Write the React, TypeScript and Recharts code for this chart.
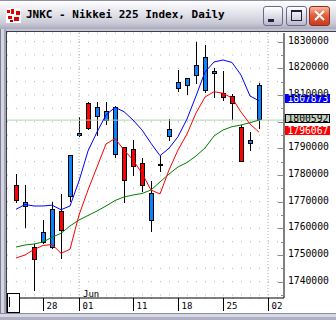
import React from 'react';
import { ComposedChart, Bar, Line, XAxis, YAxis, CartesianGrid, ReferenceLine } from 'recharts';

const dates = ['05/23','05/24','05/25','05/28','05/29','05/30','05/31','06/01','06/04','06/05','06/06','06/07','06/08','06/11','06/12','06/13','06/14','06/15','06/18','06/19','06/20','06/21','06/22','06/25','06/26','06/27','06/28','06/29'];
const openVals = [1776300,1767900,1753000,1754400,1752500,1766500,1771600,1794800,1806900,1801900,1800150,1787500,1790400,1789750,1784400,1762900,1783300,1794400,1812400,1813400,1817250,1811500,1817800,1810650,1809750,1798100,1791500,1800650];
const highVals = [1780400,1776300,1754100,1763100,1769800,1772900,1787600,1801900,1807400,1807500,1807500,1805900,1790500,1793100,1786500,1777900,1787250,1801000,1819400,1816400,1830000,1828750,1820000,1819100,1810300,1798750,1796000,1814600];
const lowVals = [1769600,1760300,1736600,1754200,1752100,1748400,1770000,1794100,1797000,1794600,1798800,1786500,1769400,1779750,1773750,1758750,1781250,1792900,1811100,1810000,1814000,1810650,1809000,1807900,1800650,1784700,1789100,1797150];
const closeVals = [1770400,1769800,1748000,1758500,1767300,1758900,1787500,1795800,1797200,1805400,1803900,1805400,1777650,1783100,1776000,1773300,1784000,1797250,1814800,1816300,1821250,1824150,1819000,1808800,1806650,1784800,1793150,1813750];
const maBlue = [1767150,1768950,1768390,1768390,1768700,1767000,1768390,1777760,1789010,1796140,1802510,1805400,1803750,1800640,1796890,1791900,1787250,1790030,1794375,1801010,1809640,1818640,1822390,1823140,1822200,1817500,1809640,1807873];
const maRed = [1748890,1750010,1752075,1753575,1753950,1750650,1752150,1765010,1774390,1783010,1791640,1793700,1789390,1785640,1780650,1774390,1772890,1781890,1789390,1795390,1803260,1809260,1811250,1810650,1808890,1803640,1799140,1796067];
const maGreen = [1753010,1753760,1754140,1754890,1756650,1758150,1760890,1763140,1764825,1766510,1768390,1770450,1771760,1772510,1773075,1774390,1777390,1780390,1783010,1784700,1787140,1790140,1794640,1796890,1798125,1798760,1799625,1800592];

const xTickIndex = [3, 7, 13, 18, 23, 28];
const xTickLabels = ['28', '01', '11', '18', '25', '02'];
const monthStartIndex = [7, 28];
const monthLabels = ['Jun', ''];
const yTicks = [1735000,1740000,1745000,1750000,1755000,1760000,1765000,1770000,1775000,1780000,1785000,1790000,1795000,1800000,1805000,1810000,1815000,1820000,1825000,1830000];
const yHiddenLabels = [1800000];
const lastBlue = 1807873;
const lastGreen = 1800592;
const lastRed = 1796067;

const BLUE_BODY = '#0a82ff';
const RED_BODY = '#ff0000';
const MONO = '"DejaVu Sans Mono", "Liberation Mono", monospace';

const data = dates.map((d, i) => ({
  i,
  date: d,
  open: openVals[i],
  high: highVals[i],
  low: lowVals[i],
  close: closeVals[i],
  range: [lowVals[i], highVals[i]],
  maBlue: maBlue[i],
  maRed: maRed[i],
  maGreen: maGreen[i],
}));

const Candle = (p: any) => {
  const { x, y, width, height, payload } = p;
  if (x == null || payload == null) return null;
  const top = Math.min(y, y + height);
  const h = Math.abs(height);
  const { open, close, high, low } = payload;
  const span = high - low || 1;
  const py = (v: number) => top + ((high - v) / span) * h;
  const cx = Math.round(x + width / 2);
  const up = close >= open;
  const rt = Math.round(py(Math.max(open, close)));
  const rb = Math.max(Math.round(py(Math.min(open, close))), rt + 2);
  return (
    <g>
      <line x1={cx + 0.5} y1={Math.round(top)} x2={cx + 0.5} y2={Math.round(top + h)} stroke="#000" strokeWidth={1} />
      <rect x={cx - 2 + 0.5} y={rt + 0.5} width={4} height={rb - rt - 1} fill={up ? BLUE_BODY : RED_BODY} stroke="#000" strokeWidth={1} />
    </g>
  );
};

const XTick = (p: any) => {
  const { x, y, payload } = p;
  const idx = xTickIndex.indexOf(payload.value);
  const X = Math.round(x) + 0.5;
  const m = monthStartIndex.indexOf(payload.value);
  return (
    <g>
      <line x1={X} y1={y} x2={X} y2={y + 13} stroke="#000" strokeWidth={1} />
      <text x={X + 3} y={y + 11} fontSize={9} fontFamily={MONO} fill="#000">{idx >= 0 ? xTickLabels[idx] : ''}</text>
      {m >= 0 && monthLabels[m] ? (
        <text x={X + 3.5} y={y - 1} fontSize={9} fontFamily={MONO} fill="#000">{monthLabels[m]}</text>
      ) : null}
    </g>
  );
};

const RightTick = (p: any) => {
  const { x, y, payload } = p;
  const v = payload.value;
  const major = v % 10000 === 0;
  const Y = Math.round(y) + 0.5;
  const ax = x - 4;
  const showLabel = major && yHiddenLabels.indexOf(v) < 0;
  return (
    <g>
      <line x1={ax - (major ? 6 : 3)} y1={Y} x2={ax} y2={Y} stroke="#8a8a8a" strokeWidth={1} />
      {showLabel ? (
        <text x={x} y={y + 2} fontSize={9.7} fontFamily={MONO} fill="#000">{String(v)}</text>
      ) : null}
    </g>
  );
};

const LeftTick = (p: any) => {
  const { x, y } = p;
  const Y = Math.round(y) + 0.5;
  return <line x1={x} y1={Y} x2={x + 3} y2={Y} stroke="#9a9a9a" strokeWidth={1} />;
};

const valueBox = (val: number, bg: string, fg: string, border: string) => (props: any) => {
  const vb = props.viewBox || {};
  const ly = vb.y;
  const x0 = (vb.x || 0) + (vb.width || 0) + 1;
  const top = Math.round(ly - 6.5);
  return (
    <g>
      <rect x={x0 + 0.5} y={top + 0.5} width={44} height={8} fill={bg} stroke={border} strokeWidth={1} />
      <text x={x0 + 2.5} y={top + 8} fontSize={9.7} fontFamily={MONO} fill={fg}>{String(val)}</text>
    </g>
  );
};

const Y_DOMAIN: [number, number] = [1733890, 1833260];

export default function App() {
  return (
    <div style={{ position: 'absolute', left: 0, top: 0, width: 336, height: 320, overflow: 'hidden', background: '#ffffff' }}>
      {/* title bar */}
      <div style={{ position: 'absolute', left: 0, top: 0, width: 336, height: 29, background: 'linear-gradient(to bottom, #ffffff 0%, #f2f2f6 20%, #dcdce6 55%, #c9c9d6 80%, #a9a9bc 100%)', borderTop: '1px solid #9090a8', boxSizing: 'border-box' }} />
      <svg style={{ position: 'absolute', left: 6, top: 8 }} width={15} height={15}>
        <rect x={0} y={0} width={15} height={15} fill="#ffffff" />
        <rect x={1} y={2} width={3} height={3} fill="#e00000" />
        <rect x={5} y={1} width={3} height={5} fill="#e00000" />
        <rect x={10} y={3} width={4} height={4} fill="#e00000" />
        <rect x={2} y={8} width={4} height={3} fill="#e00000" />
        <rect x={8} y={9} width={5} height={4} fill="#e00000" />
        <rect x={4} y={12} width={3} height={2} fill="#b00000" />
      </svg>
      <div style={{ position: 'absolute', left: 26, top: 8, fontFamily: MONO, fontWeight: 'bold', fontSize: 11, lineHeight: '14px', color: '#000', whiteSpace: 'pre' }}>JNKC - Nikkei 225 Index, Daily</div>
      {/* buttons */}
      <div style={{ position: 'absolute', left: 263, top: 6, width: 20, height: 20, boxSizing: 'border-box', border: '1px solid #6a6a88', borderRadius: 3, background: 'linear-gradient(to bottom, #ffffff, #d8d8e4 60%, #b8b8cc)' }}>
        <div style={{ position: 'absolute', left: 4, top: 12, width: 6, height: 3, background: '#20203a' }} />
      </div>
      <div style={{ position: 'absolute', left: 286, top: 6, width: 21, height: 20, boxSizing: 'border-box', border: '1px solid #6a6a88', borderRadius: 3, background: 'linear-gradient(to bottom, #ffffff, #d8d8e4 60%, #b8b8cc)' }}>
        <div style={{ position: 'absolute', left: 4, top: 3, width: 11, height: 11, boxSizing: 'border-box', border: '1px solid #20203a', borderTopWidth: 2 }} />
      </div>
      <div style={{ position: 'absolute', left: 309, top: 6, width: 21, height: 20, boxSizing: 'border-box', border: '1px solid #8a3020', borderRadius: 3, background: 'linear-gradient(to bottom, #f8b8a0, #e5603c 45%, #c83c20)' }}>
        <svg style={{ position: 'absolute', left: 0, top: 0 }} width={19} height={18}>
          <line x1={5} y1={4} x2={14} y2={13} stroke="#ffffff" strokeWidth={2} />
          <line x1={14} y1={4} x2={5} y2={13} stroke="#ffffff" strokeWidth={2} />
        </svg>
      </div>
      {/* frame band under title */}
      <div style={{ position: 'absolute', left: 0, top: 29, width: 336, height: 2, background: '#c4c4d4' }} />

      <div style={{ position: 'absolute', left: 0, top: 30 }}>
        <ComposedChart width={336} height={290} data={data} margin={{ top: 3, right: 0, bottom: 7, left: 7 }}>
          <CartesianGrid yAxisId="l" horizontal={true} vertical={false} stroke="#b4b4b4" strokeDasharray="1 8" />
          <XAxis
            dataKey="i"
            type="number"
            domain={[-1, 29.777]}
            allowDataOverflow
            ticks={xTickIndex}
            interval={0}
            tick={<XTick />}
            tickLine={false}
            tickSize={0}
            tickMargin={0}
            height={15}
            axisLine={{ stroke: '#000' }}
          />
          <YAxis
            yAxisId="l"
            orientation="left"
            width={0}
            type="number"
            domain={Y_DOMAIN}
            allowDataOverflow
            ticks={yTicks}
            interval={0}
            tick={<LeftTick />}
            tickLine={false}
            tickSize={0}
            tickMargin={0}
            axisLine={{ stroke: '#000' }}
          />
          <YAxis
            yAxisId="r"
            orientation="right"
            width={52}
            type="number"
            domain={Y_DOMAIN}
            allowDataOverflow
            ticks={yTicks}
            interval={0}
            tick={<RightTick />}
            tickLine={false}
            tickSize={0}
            tickMargin={4}
            axisLine={{ stroke: '#000' }}
          />
          {monthStartIndex.map((m) => (
            <ReferenceLine key={'v' + m} yAxisId="r" x={m} stroke="#b0b0b0" strokeDasharray="1 2" />
          ))}
          <ReferenceLine yAxisId="r" y={lastGreen} stroke="#b0d6b0" strokeWidth={1} label={valueBox(lastGreen, '#c4d4c4', '#000', '#000')} />
          <ReferenceLine yAxisId="r" y={lastBlue} stroke="transparent" label={valueBox(lastBlue, '#0000ff', '#ffffff', '#0000ff')} />
          <ReferenceLine yAxisId="r" y={lastRed} stroke="transparent" label={valueBox(lastRed, '#ff0000', '#ffffff', '#ff0000')} />
          <Line yAxisId="r" type="linear" dataKey="maGreen" stroke="#008000" strokeWidth={1} dot={false} isAnimationActive={false} />
          <Line yAxisId="r" type="linear" dataKey="maRed" stroke="#ff0000" strokeWidth={1} dot={false} isAnimationActive={false} />
          <Line yAxisId="r" type="linear" dataKey="maBlue" stroke="#0000ff" strokeWidth={1} dot={false} isAnimationActive={false} />
          <Bar yAxisId="r" dataKey="range" barSize={5} shape={<Candle />} isAnimationActive={false} />
        </ComposedChart>
      </div>

      {/* client frame lines */}
      <div style={{ position: 'absolute', left: 6, top: 31, width: 330, height: 1, background: '#404048' }} />
      <div style={{ position: 'absolute', left: 0, top: 29, width: 6, height: 291, background: 'linear-gradient(to right, #7e7e94 0px, #7e7e94 1px, #d6d6e2 1px, #d6d6e2 4px, #a4a4b8 4px)' }} />
      <div style={{ position: 'absolute', left: 6, top: 31, width: 1, height: 282, background: '#404048' }} />
      <div style={{ position: 'absolute', left: 0, top: 313, width: 336, height: 7, background: 'linear-gradient(to bottom, #8a8aa0 0px, #8a8aa0 1px, #d8d8e4 1px, #d8d8e4 4px, #b0b0c4 4px)' }} />
      {/* scroll box */}
      <div style={{ position: 'absolute', left: 7, top: 293, width: 13, height: 20, boxSizing: 'border-box', border: '1px solid #000', background: '#ffffff' }}>
        <div style={{ position: 'absolute', left: 1, top: 3, width: 1, height: 10, background: '#000' }} />
      </div>
    </div>
  );
}
